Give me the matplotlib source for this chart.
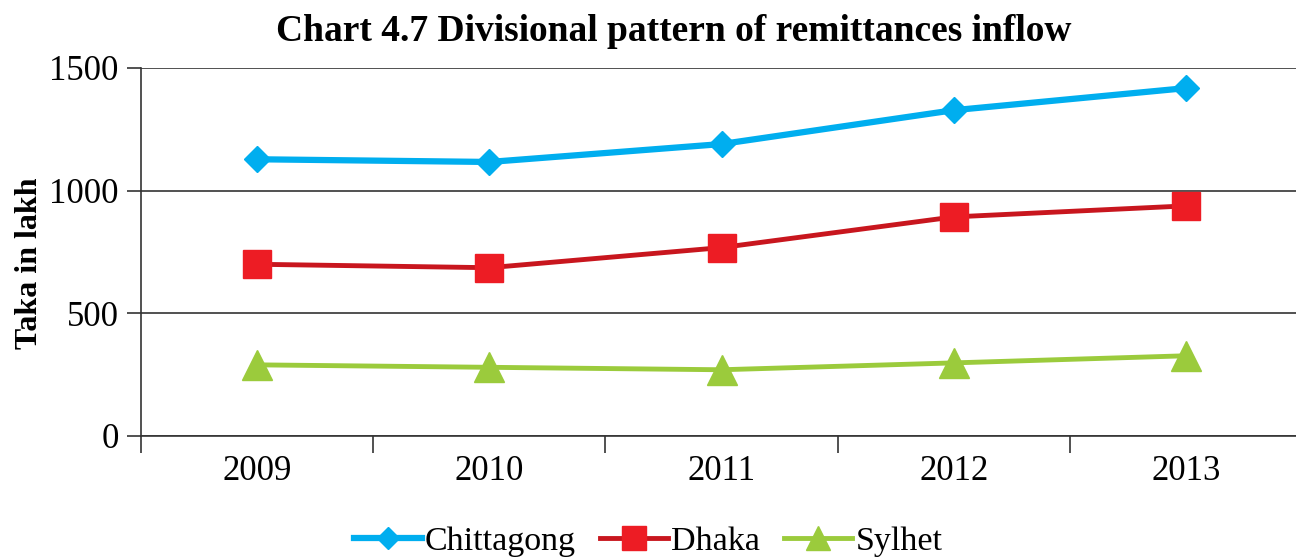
import matplotlib
matplotlib.use("Agg")
import matplotlib.pyplot as plt

# data
years = ["2009", "2010", "2011", "2012", "2013"]
chittagong = [1128, 1117, 1190, 1328, 1418]
dhaka = [700, 686, 768, 893, 938]
sylhet = [290, 280, 270, 298, 327]

plt.rcParams["font.family"] = ["Liberation Serif", "DejaVu Serif"]

fig = plt.figure(figsize=(12.96, 5.57), dpi=100)
ax = fig.add_axes([141 / 1296, 121 / 557, 1161 / 1296, 368 / 557])

x = range(len(years))
ax.plot(x, chittagong, color="#00AEEF", lw=4.5, marker="D", ms=13,
        mec="#00AEEF", label="Chittagong")
ax.plot(x, dhaka, color="#C8161E", lw=3.5, marker="s", ms=20,
        mfc="#ED1C24", mec="#ED1C24", label="Dhaka")
ax.plot(x, sylhet, color="#9BCB3C", lw=3.5, marker="^", ms=21,
        mec="#9BCB3C", label="Sylhet")

ax.set_xlim(-0.5, 4.5)
ax.set_ylim(0, 1500)
ax.set_yticks([0, 500, 1000, 1500])
ax.yaxis.grid(True, color="#333333", lw=1.2)
ax.set_axisbelow(True)
ax.set_xticks(list(x))
ax.set_xticklabels(years)
ax.set_xticks([i - 0.5 for i in range(len(years) + 1)], minor=True)
ax.tick_params(axis="x", which="major", length=0, pad=14, labelsize=25)
ax.tick_params(axis="x", which="minor", length=12, width=1.2, color="#333333")
ax.tick_params(axis="y", length=10, width=1.2, color="#333333", labelsize=25, pad=6)

for s in ["top", "right"]:
    ax.spines[s].set_visible(False)
ax.spines["left"].set_color("#333333")
ax.spines["left"].set_linewidth(1.2)
ax.spines["bottom"].set_color("#333333")
ax.spines["bottom"].set_linewidth(1.2)

ax.set_ylabel("Taka in lakh", fontsize=23, fontweight="bold", labelpad=4)
ax.yaxis.label.set_y(0.47)
fig.suptitle("Chart 4.7 Divisional pattern of remittances inflow",
             fontsize=27, fontweight="bold", x=0.52, y=0.975)

fig.legend(loc="lower center", bbox_to_anchor=(0.5, -0.055), ncol=3,
           fontsize=24.5, frameon=False, handlelength=2.0, handletextpad=0.1,
           columnspacing=0.7, markerscale=0.85)

fig.savefig("out.png", dpi=100)
